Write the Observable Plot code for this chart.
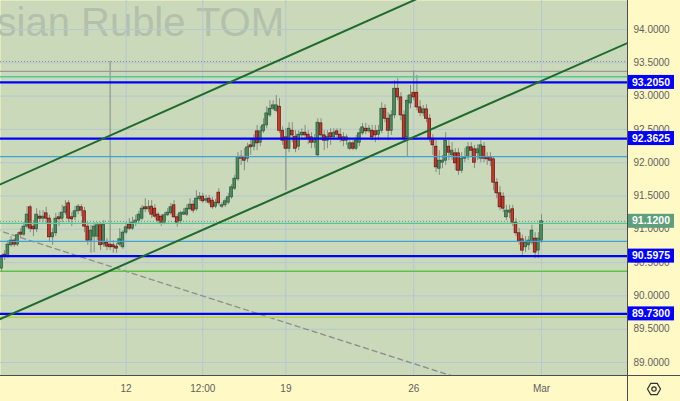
<!DOCTYPE html>
<html><head><meta charset="utf-8">
<script src="https://cdn.jsdelivr.net/npm/d3@7"></script>
<script src="https://cdn.jsdelivr.net/npm/@observablehq/plot@0.6"></script>
<style>html,body{margin:0;padding:0;background:#fff9c6;} #chart svg{display:block;}</style>
</head><body><div id="chart"></div>
<script>
const watermark = "sian Ruble TOM";
const open = [
90.41,90.62,90.59,90.76,90.83,90.77,90.95,90.92,91.04,91.33,
91.04,91.00,91.19,91.16,91.24,91.16,90.88,90.94,91.18,91.16,
91.25,91.39,91.18,91.18,91.27,91.33,91.27,91.04,90.83,90.89,
90.89,91.06,90.77,90.80,90.77,90.76,90.74,90.77,90.73,90.95,
91.07,91.01,91.10,91.13,91.16,91.33,91.30,91.34,91.31,91.22,
91.19,91.10,91.21,91.24,91.36,91.18,91.12,91.22,91.22,91.30,
91.37,91.30,91.45,91.49,91.43,91.46,91.43,91.34,91.55,91.34,
91.36,91.40,91.48,91.61,91.75,92.09,92.08,92.06,92.26,92.24,
92.47,92.30,92.47,92.56,92.71,92.81,92.78,92.84,92.48,92.38,
92.21,92.48,92.39,92.24,92.41,92.45,92.42,92.38,92.30,92.11,
92.59,92.41,92.33,92.44,92.38,92.47,92.42,92.38,92.33,92.21,
92.29,92.21,92.30,92.44,92.51,92.47,92.48,92.47,92.42,92.48,
92.81,92.66,92.48,92.71,93.11,92.98,92.71,92.38,92.89,93.05,
93.05,92.83,92.74,92.80,92.66,92.36,92.24,91.91,92.00,92.03,
92.24,92.11,92.14,92.14,91.88,92.06,92.08,92.23,92.20,92.14,
92.06,92.24,92.08,92.08,92.05,91.70,91.54,91.49,91.18,91.25,
91.30,91.10,90.94,90.85,90.73,90.76,90.80,90.86,90.68,90.83];
const high = [
90.62,90.68,90.83,90.89,90.86,90.95,91.01,91.10,91.34,91.36,
91.13,91.31,91.28,91.28,91.33,91.21,91.01,91.24,91.25,91.36,
91.43,91.43,91.25,91.34,91.37,91.37,91.33,91.10,91.06,91.10,
91.10,91.10,91.13,90.86,93.52,90.83,90.79,91.01,90.98,91.10,
91.16,91.18,91.21,91.27,91.36,91.46,91.43,91.43,91.37,91.25,
91.22,91.25,91.31,91.39,91.43,91.22,91.27,91.31,91.37,91.46,
91.43,91.58,91.55,91.54,91.51,91.51,91.48,91.45,91.61,91.40,
91.46,91.54,91.67,91.81,92.15,92.18,92.21,92.29,92.36,92.42,
92.56,92.54,92.66,92.84,92.93,92.93,93.01,92.96,92.54,92.51,
92.60,92.60,92.48,92.48,92.51,92.56,92.48,92.45,92.42,92.66,
92.66,92.48,92.48,92.51,92.51,92.51,92.51,92.45,92.42,92.33,
92.33,92.41,92.51,92.59,92.59,92.56,92.56,92.56,92.56,92.90,
92.87,92.75,92.78,93.23,93.26,93.05,92.78,93.01,93.16,93.38,
93.31,92.93,92.86,92.87,92.72,92.42,92.33,92.18,92.11,92.45,
92.33,92.30,92.21,92.21,92.15,92.21,92.30,92.30,92.26,92.27,
92.33,92.30,92.15,92.15,92.09,91.76,91.64,91.55,91.36,91.36,
91.36,91.16,91.01,90.91,90.89,90.89,91.06,90.95,90.95,91.22];
const low = [
90.35,90.53,90.56,90.73,90.73,90.74,90.86,90.89,91.01,90.95,
90.89,90.95,91.10,91.10,91.07,90.80,90.76,90.89,91.04,91.10,
91.21,91.10,91.04,91.13,91.22,91.19,90.95,90.76,90.64,90.65,
90.83,90.68,90.73,90.68,90.68,90.64,90.64,90.74,90.70,90.92,
90.98,90.98,91.04,91.08,91.13,91.25,91.25,91.16,91.16,91.07,
91.04,91.07,91.19,91.21,91.16,91.03,91.09,91.21,91.19,91.28,
91.24,91.27,91.42,91.39,91.39,91.36,91.30,91.31,91.36,91.31,
91.33,91.37,91.45,91.58,91.72,91.96,91.88,92.00,92.11,92.18,
92.18,92.24,92.44,92.51,92.68,92.78,92.75,92.44,92.26,91.58,
92.15,92.30,92.15,92.18,92.33,92.33,92.27,92.21,92.21,92.09,
92.33,92.18,92.21,92.26,92.33,92.33,92.30,92.24,92.26,92.18,
92.18,92.18,92.24,92.41,92.42,92.44,92.33,92.30,92.33,92.44,
92.60,92.33,92.41,92.66,92.93,92.63,92.30,92.08,92.81,92.93,
92.78,92.69,92.69,92.60,92.30,92.11,91.85,91.81,91.91,91.96,
92.03,92.03,91.88,91.81,91.84,92.00,92.03,92.09,91.91,92.03,
92.00,92.00,91.96,91.94,91.58,91.46,91.28,91.25,91.13,91.16,
91.04,90.89,90.76,90.61,90.65,90.68,90.76,90.56,90.56,90.79];
const close = [
90.59,90.59,90.77,90.83,90.77,90.91,90.92,91.04,91.22,91.01,
91.00,91.22,91.16,91.19,91.16,90.88,90.94,91.16,91.15,91.25,
91.33,91.16,91.15,91.27,91.34,91.28,91.04,90.83,90.98,91.04,
91.06,90.76,91.07,90.74,90.73,90.73,90.71,90.85,90.95,91.03,
91.01,91.10,91.13,91.22,91.31,91.30,91.33,91.22,91.19,91.13,
91.10,91.21,91.25,91.33,91.18,91.10,91.24,91.25,91.31,91.37,
91.28,91.46,91.49,91.42,91.45,91.40,91.33,91.40,91.39,91.36,
91.42,91.48,91.63,91.76,92.08,92.06,92.03,92.23,92.23,92.35,
92.29,92.47,92.56,92.74,92.81,92.86,92.86,92.48,92.33,92.21,
92.51,92.41,92.21,92.42,92.45,92.41,92.36,92.30,92.36,92.60,
92.41,92.33,92.39,92.38,92.45,92.42,92.36,92.33,92.38,92.29,
92.21,92.33,92.44,92.53,92.47,92.51,92.38,92.41,92.48,92.81,
92.66,92.48,92.71,93.11,92.98,92.71,92.36,92.93,93.01,92.98,
92.83,92.75,92.80,92.66,92.36,92.26,91.93,92.03,92.03,92.33,
92.15,92.18,91.99,91.88,92.06,92.08,92.23,92.18,92.00,92.20,
92.26,92.06,92.05,92.03,91.70,91.54,91.33,91.31,91.28,91.28,
91.10,90.94,90.82,90.68,90.80,90.83,90.98,90.65,90.86,91.12];

const xTickIndex = [39, 63, 89, 129, 169];
const xTickLabels = ["12", "12:00", "19", "26", "Mar"];
const yTicks = [89, 89.5, 90, 90.5, 91, 91.5, 92, 92.5, 93, 93.5, 94];
const keyLevels = [93.2050, 92.3625, 90.5975, 89.7300];
const lastPrice = 91.12;
const dottedLevels = [93.52];
const greyLevels = [93.37];
const mintLevels = [93.29, 91.09];
const skyLevels = [92.09, 90.82];
const greenLevels = [90.37];
const limeLevels = [89.68];
const upperChannel = [{i: -2, p: 91.64}, {i: 131, p: 94.48}];
const lowerChannel = [{i: -2, p: 89.62}, {i: 197, p: 93.82}];
const dashedTrend = [{i: -2, p: 91.00}, {i: 150, p: 88.66}];

const candles = open.map((o, i) => ({i, o, h: high[i], l: low[i], c: close[i]}));
const up = candles.filter(d => d.c >= d.o);
const down = candles.filter(d => d.c < d.o);

const chart = Plot.plot({
  width: 680, height: 401,
  marginLeft: 0, marginTop: 0, marginRight: 53, marginBottom: 26,
  style: {background: "#fff9c6", color: "#5f5f5f", fontFamily: "'Liberation Sans', Arial, sans-serif", fontSize: "10px"},
  x: {domain: [-0.31, 195.9], ticks: xTickIndex, tickFormat: d => xTickLabels[xTickIndex.indexOf(d)], tickSize: 0, tickPadding: 9, label: null},
  y: {domain: [88.805, 94.435], axis: "right", ticks: yTicks, tickFormat: d => d.toFixed(4), tickSize: 0, tickPadding: 6, label: null},
  marks: [
    Plot.frame({fill: "#cad9b9", stroke: "none"}),
    Plot.text([watermark], {frameAnchor: "top-left", dx: -4, dy: 35, lineAnchor: "bottom", textAnchor: "start", fontSize: 40, fill: "#b2c0ac"}),
    Plot.ruleY(yTicks, {stroke: "#b5c8d3", strokeWidth: 1}),
    Plot.ruleX(xTickIndex, {stroke: "#b5c8d3", strokeWidth: 1}),
    Plot.line(dashedTrend, {x: "i", y: "p", stroke: "#8f8f8f", strokeWidth: 1.4, strokeDasharray: "5,4", clip: true}),
    Plot.ruleX(candles, {x: "i", y1: "l", y2: "h", stroke: "#858a84", strokeWidth: 1}),
    Plot.rect(up, {x1: d => d.i - 0.43, x2: d => d.i + 0.43, y1: "o", y2: "c", fill: "#4c8a5d", stroke: "#27553a", strokeWidth: 0.7}),
    Plot.rect(down, {x1: d => d.i - 0.43, x2: d => d.i + 0.43, y1: "o", y2: "c", fill: "#cc3528", stroke: "#561610", strokeWidth: 0.7}),
    Plot.ruleY(dottedLevels, {stroke: "#8c8c8c", strokeDasharray: "1,2", strokeWidth: 1}),
    Plot.ruleY([lastPrice], {stroke: "#7a8a7e", strokeDasharray: "1,2", strokeWidth: 1}),
    Plot.ruleY(greyLevels, {stroke: "#9a9a9a", strokeWidth: 1.3}),
    Plot.ruleY(mintLevels, {stroke: "#52c89c", strokeWidth: 1.3}),
    Plot.ruleY(skyLevels, {stroke: "#3ea3dc", strokeWidth: 1.2}),
    Plot.ruleY(greenLevels, {stroke: "#5dc24a", strokeWidth: 1.3}),
    Plot.ruleY(limeLevels, {stroke: "#bcd04a", strokeWidth: 1.5}),
    Plot.ruleY(keyLevels, {stroke: "#0000ff", strokeWidth: 2.2}),
    Plot.line(upperChannel, {x: "i", y: "p", stroke: "#1f6b2f", strokeWidth: 2, clip: true}),
    Plot.line(lowerChannel, {x: "i", y: "p", stroke: "#1f6b2f", strokeWidth: 2, clip: true})
  ]
});
document.getElementById("chart").appendChild(chart);

// overlay: axis borders, price labels, settings icon
const sy = chart.scale("y");
const Y = sy.apply ? (v => sy.apply(v)) : d3.scaleLinear(sy.domain, sy.range);
const W = 680, H = 401, R = 627, B = 375;
const g = d3.select(chart).append("g");
g.append("line").attr("x1", R + 0.5).attr("x2", R + 0.5).attr("y1", 0).attr("y2", H).attr("stroke", "#4d4d4d");
g.append("line").attr("x1", 0).attr("x2", W).attr("y1", B + 0.5).attr("y2", B + 0.5).attr("stroke", "#4d4d4d");
const labels = keyLevels.map(v => ({v, fill: "#0000ff"})).concat([{v: lastPrice, fill: "#5e9f7c"}]);
for (const d of labels) {
  const y = Y(d.v);
  g.append("rect").attr("x", R + 1).attr("y", y - 7).attr("width", 46).attr("height", 14).attr("fill", d.fill);
  g.append("text").attr("x", R + 24).attr("y", y).attr("dy", "0.35em").attr("text-anchor", "middle")
    .attr("fill", "#ffffff").attr("font-weight", "bold").attr("font-size", 10.5)
    .attr("font-family", "'Liberation Sans', Arial, sans-serif").text(d.v.toFixed(4));
}
const cx = 654, cy = 389, r = 6.5;
const hex = d3.range(6).map(k => [cx + r * Math.cos(k * Math.PI / 3), cy + r * Math.sin(k * Math.PI / 3)]);
g.append("path").attr("d", "M" + hex.join("L") + "Z").attr("fill", "none").attr("stroke", "#333").attr("stroke-width", 1.2);
g.append("circle").attr("cx", cx).attr("cy", cy).attr("r", 2.2).attr("fill", "none").attr("stroke", "#333").attr("stroke-width", 1.2);
</script>
</body></html>
